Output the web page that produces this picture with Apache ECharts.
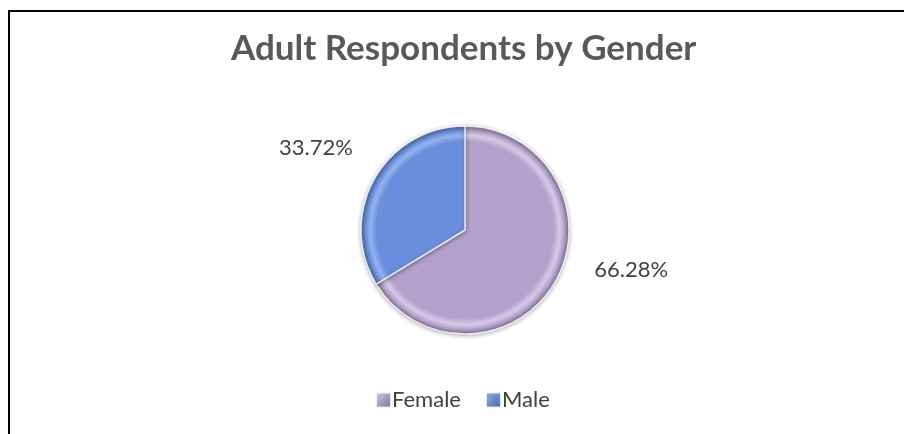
<!DOCTYPE html>
<html>
<head>
<meta charset="utf-8">
<script src="https://cdn.jsdelivr.net/npm/echarts@6/dist/echarts.min.js"></script>
<style>
  html, body { margin: 0; padding: 0; background: #fff; }
  #wrap { position: relative; width: 904px; height: 434px; overflow: hidden; }
  #chart { position: absolute; left: 0; top: 0; width: 904px; height: 434px; }
  #frame { position: absolute; left: 8px; top: 10px; width: 1000px; height: 1000px;
           border-left: 2px solid #000; border-top: 2px solid #000; pointer-events: none; }
</style>
</head>
<body>
<div id="wrap"><div id="chart"></div><div id="frame"></div></div>
<script>
// Respondent shares by gender (percent of adult respondents)
const categories = ['Female', 'Male'];
const shares = [66.28, 33.72];
const sliceColors = ['#B3A1CC', '#6A8EDB'];
const rimColors = ['#7F7090', '#45629F'];
const glossColors = ['#D6CAE4', '#95B3F0'];

// Pie geometry
const CX = 465, CY = 230, R = 104;

function bevel(i) {
  return {
    type: 'radial', x: CX, y: CY, r: R, global: true,
    colorStops: [
      { offset: 0, color: sliceColors[i] },
      { offset: 0.85, color: sliceColors[i] },
      { offset: 0.91, color: glossColors[i] },
      { offset: 0.955, color: sliceColors[i] },
      { offset: 1, color: rimColors[i] }
    ]
  };
}

const chart = echarts.init(document.getElementById('chart'), null, { renderer: 'canvas' });
chart.setOption({
  backgroundColor: '#fff',
  animation: false,
  title: {
    text: 'Adult Respondents by Gender',
    left: 231,
    top: 31,
    padding: 0,
    textStyle: { fontFamily: 'Lato, "Open Sans", sans-serif', fontWeight: 'bold', fontSize: 35, color: '#595959' }
  },
  legend: {
    data: categories.map((c, i) => ({
      name: c,
      itemStyle: {
        color: {
          type: 'linear', x: 0, y: 0, x2: 1, y2: 1,
          colorStops: [{ offset: 0, color: glossColors[i] }, { offset: 1, color: rimColors[i] }]
        }
      }
    })),
    left: 370,
    top: 384,
    icon: 'rect',
    itemWidth: 15,
    itemHeight: 15,
    itemGap: 24,
    textStyle: { fontFamily: 'Lato, "Open Sans", sans-serif', fontSize: 22, color: '#404040', padding: [0, 0, 0, -4] }
  },
  series: [{
    type: 'pie',
    center: [CX, CY],
    radius: R,
    startAngle: 90,
    clockwise: true,
    data: categories.map((c, i) => ({
      name: c, value: shares[i],
      itemStyle: { color: bevel(i) }
    })),
    itemStyle: {
      borderColor: 'rgba(255,255,255,0.8)',
      borderWidth: 1.5,
      shadowColor: 'rgba(0,0,0,0.3)',
      shadowBlur: 4,
      shadowOffsetY: 1
    },
    label: {
      show: true,
      position: 'outside',
      formatter: '{d}%',
      fontFamily: 'Lato, "Open Sans", sans-serif',
      fontSize: 22,
      color: '#404040'
    },
    labelLine: { show: false, length: 35, length2: 0 },
    labelLayout: function (p) {
      return p.dataIndex === 0 ? { dx: 3, dy: -28 } : { dx: 14, dy: -14 };
    },
    emphasis: { disabled: true }
  }]
});
</script>
</body>
</html>
